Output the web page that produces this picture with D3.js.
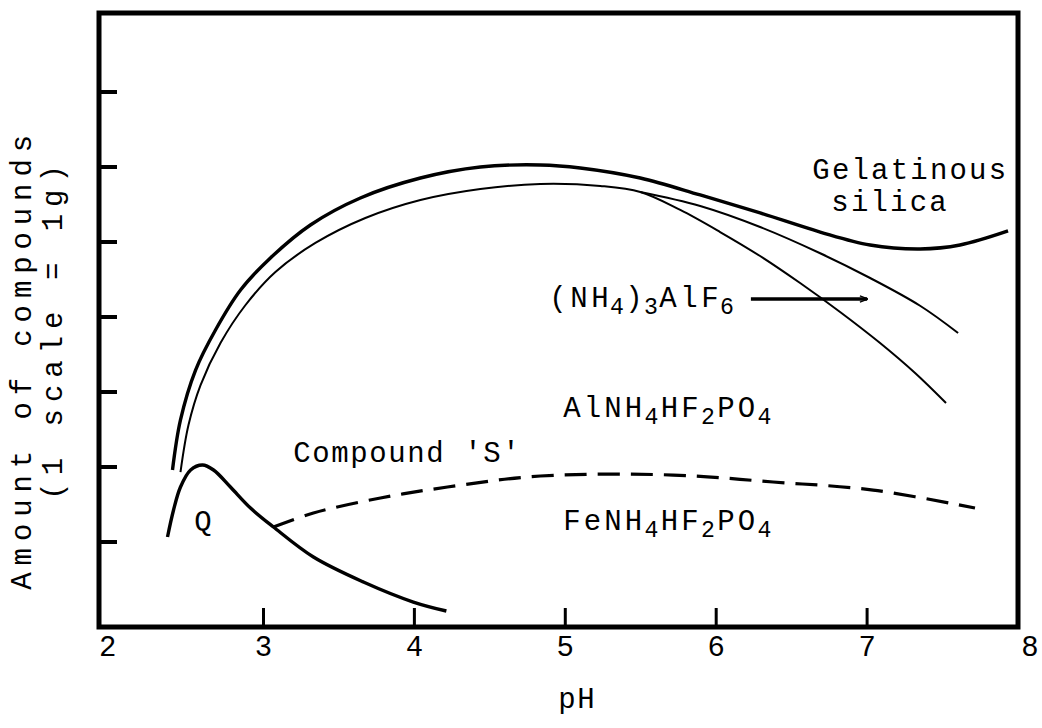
<!DOCTYPE html>
<html><head><meta charset="utf-8">
<script src="https://cdn.jsdelivr.net/npm/d3@7"></script>
<style>body{margin:0;background:#fff}</style>
</head><body><svg id="c" width="1042" height="728"></svg>
<script>
// ---- data ----
const xTicks = [2, 3, 4, 5, 6, 7, 8];
const yTicks = [1, 2, 3, 4, 5, 6, 7];

// Gelatinous silica (outer thick curve)
const silicaPH  = [2.397, 2.450, 2.550, 2.682, 2.848, 3.046, 3.311, 3.642, 4.040, 4.437, 4.834, 5.099, 5.497, 5.894, 6.291, 6.689, 7.020, 7.351, 7.616, 7.934];
const silicaAmt = [1.96, 2.627, 3.293, 3.827, 4.36, 4.787, 5.227, 5.587, 5.853, 6.0, 6.027, 5.987, 5.853, 5.627, 5.387, 5.133, 4.96, 4.907, 4.96, 5.147];

// AlNH4HF2PO4 upper boundary (inner curve, continuing as the lower branch)
const alPH  = [2.450, 2.503, 2.583, 2.715, 2.881, 3.079, 3.344, 3.675, 4.040, 4.437, 4.834, 5.232, 5.497, 5.762, 6.026, 6.291, 6.556, 6.821, 7.086, 7.318, 7.523];
const alAmt = [1.933, 2.56, 3.093, 3.653, 4.16, 4.6, 4.987, 5.32, 5.56, 5.707, 5.773, 5.747, 5.667, 5.427, 5.133, 4.813, 4.453, 4.067, 3.653, 3.253, 2.853];

// (NH4)3AlF6 upper boundary (branch)
const nhPH  = [5.497, 5.894, 6.291, 6.689, 7.020, 7.351, 7.603];
const nhAmt = [5.667, 5.480, 5.200, 4.850, 4.520, 4.150, 3.787];

// Compound Q
const qPH  = [2.364, 2.404, 2.450, 2.517, 2.596, 2.669, 2.781, 2.914, 3.066, 3.331, 3.662, 3.993, 4.212];
const qAmt = [1.067, 1.427, 1.733, 1.96, 2.027, 1.96, 1.733, 1.453, 1.2, 0.8, 0.467, 0.2, 0.08];

// Compound 'S' (dashed)
const sPH  = [3.066, 3.331, 3.775, 4.219, 4.834, 5.715, 6.377, 7.040, 7.715];
const sAmt = [1.2, 1.387, 1.587, 1.733, 1.88, 1.893, 1.8, 1.693, 1.453];

// arrow from the (NH4)3AlF6 label
const arrowPH  = [6.230, 7.000];
const arrowAmt = [4.24, 4.24];

// ---- layout ----
const svg = d3.select('#c');
const x = d3.scaleLinear().domain([1.91, 8]).range([99, 1018]);
const y = d3.scaleLinear().domain([-0.133, 8.053]).range([627, 13]);
const font = "'Liberation Mono','Cousine','DejaVu Sans Mono',monospace";
const FS = 29;

const zip = (a, b) => a.map((v, i) => [v, b[i]]);
const lineC = d3.line().x(d => x(d[0])).y(d => y(d[1])).curve(d3.curveCatmullRom.alpha(0.5));

// frame
svg.append('rect')
  .attr('x', x(1.91)).attr('y', y(8.053))
  .attr('width', x(8) - x(1.91)).attr('height', y(-0.133) - y(8.053))
  .attr('fill', 'none').attr('stroke', '#000').attr('stroke-width', 5);

// left ticks (inward)
svg.append('g').selectAll('line').data(yTicks).join('line')
  .attr('x1', x(1.91)).attr('x2', x(1.91) + 18)
  .attr('y1', d => y(d)).attr('y2', d => y(d))
  .attr('stroke', '#000').attr('stroke-width', 4);

// bottom ticks (inward)
svg.append('g').selectAll('line').data(xTicks.slice(1, -1)).join('line')
  .attr('x1', d => x(d)).attr('x2', d => x(d))
  .attr('y1', y(-0.133)).attr('y2', y(-0.133) - 19)
  .attr('stroke', '#000').attr('stroke-width', 3);

// bottom tick labels
svg.append('g').selectAll('text').data(xTicks).join('text')
  .attr('x', d => x(d) + (d === 2 ? -5 : d === 8 ? 12 : 0))
  .attr('y', 656)
  .attr('text-anchor', 'middle')
  .attr('font-family', font).attr('font-size', FS)
  .text(d => d);

// typewriter-style text: each glyph centred in its own cell
function typeText(parent, x0, base, parts, pitch, subPitch, rotated) {
  const t = parent.append('text').attr('text-anchor', 'middle')
    .attr('font-family', font).attr('font-size', FS);
  let cur = x0, first = true, prevSub = false;
  parts.forEach(p => {
    const str = typeof p === 'string' ? p : p[0];
    const sub = typeof p !== 'string';
    const xs = [];
    for (const ch of str) {
      if (!first) cur += (sub || prevSub) ? subPitch : pitch;
      xs.push(cur); first = false; prevSub = sub;
    }
    const ts = t.append('tspan')
      .attr('x', xs.map(v => rotated ? -v : v).join(' '))
      .attr('y', sub ? base + 7 : base)
      .text(str);
    if (sub) ts.attr('font-size', FS * 0.8);
  });
  return t;
}

// axis titles
typeText(svg, 567, 708, ['pH'], 19, 19);
const g1 = svg.append('g').attr('transform', 'translate(31,0) rotate(-90)');
typeText(g1, 581, 0, ['Amount of compounds'], -24.3, -24.3, true);
const g2 = svg.append('g').attr('transform', 'translate(62,0) rotate(-90)');
typeText(g2, 491, 0, ['(1 scale = 1g)'], -24.4, -24.4, true);

// curves
svg.append('path').attr('d', lineC(zip(silicaPH, silicaAmt)))
  .attr('fill', 'none').attr('stroke', '#000').attr('stroke-width', 3.4);
svg.append('path').attr('d', lineC(zip(alPH, alAmt)))
  .attr('fill', 'none').attr('stroke', '#000').attr('stroke-width', 2);
svg.append('path').attr('d', lineC(zip(nhPH, nhAmt)))
  .attr('fill', 'none').attr('stroke', '#000').attr('stroke-width', 2);
svg.append('path').attr('d', lineC(zip(qPH, qAmt)))
  .attr('fill', 'none').attr('stroke', '#000').attr('stroke-width', 3.4);
svg.append('path').attr('d', lineC(zip(sPH, sAmt)))
  .attr('fill', 'none').attr('stroke', '#000').attr('stroke-width', 3.2)
  .attr('stroke-dasharray', '22,11');

// arrow
svg.append('defs').append('marker').attr('id', 'ah')
  .attr('viewBox', '0 0 10 10').attr('refX', 9).attr('refY', 5)
  .attr('markerWidth', 9).attr('markerHeight', 8).attr('markerUnits', 'userSpaceOnUse')
  .attr('orient', 'auto')
  .append('path').attr('d', 'M0,1 L10,5 L0,9').attr('fill', 'none').attr('stroke', '#000').attr('stroke-width', 1.6);
svg.append('line')
  .attr('x1', x(arrowPH[0])).attr('y1', y(arrowAmt[0]))
  .attr('x2', x(arrowPH[1])).attr('y2', y(arrowAmt[1]))
  .attr('stroke', '#000').attr('stroke-width', 3.5).attr('marker-end', 'url(#ah)');

// labels
typeText(svg, 821, 179, ['Gelatinous'], 19.6, 19.6);
typeText(svg, 840, 211, ['silica'], 19.6, 19.6);
typeText(svg, 558, 307, ['(NH', ['4'], ')', ['3'], 'AlF', ['6']], 21, 17);
typeText(svg, 572, 417, ['AlNH', ['4'], 'HF', ['2'], 'PO', ['4']], 20.5, 18);
typeText(svg, 302, 462, ["Compound 'S'"], 19, 19);
typeText(svg, 572, 530, ['FeNH', ['4'], 'HF', ['2'], 'PO', ['4']], 20.5, 18);
typeText(svg, 203, 531, ['Q'], 19, 19);
</script></body></html>
